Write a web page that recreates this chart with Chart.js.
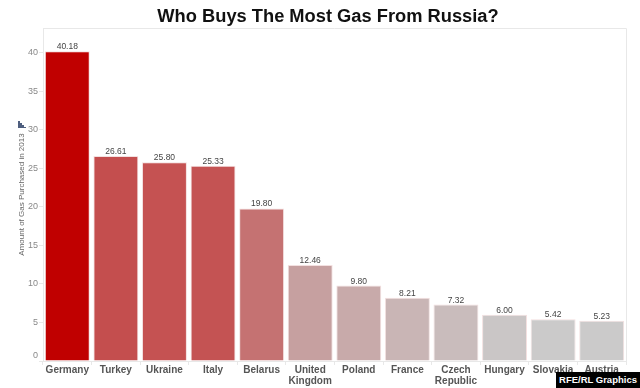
<!DOCTYPE html>
<html><head><meta charset="utf-8">
<script src="https://cdn.jsdelivr.net/npm/chart.js@4"></script>
<style>
html,body{margin:0;padding:0;background:#fff;width:640px;height:388px;overflow:hidden;position:relative}
#wrap{position:absolute;left:0;top:0;width:640px;height:388px}
#title{position:absolute;left:0;top:5px;width:656px;text-align:center;font:bold 18.3px "Liberation Sans",Arial,sans-serif;color:#111}
#badge{position:absolute;right:0;bottom:0;width:84px;height:16px;background:#000;color:#fff;font:bold 9.5px/16px "Liberation Sans",Arial,sans-serif;text-align:center}
#ic{position:absolute;left:18px;top:121px;width:8px;height:7px}
#ic i{position:absolute;bottom:0;width:2px;background:#4f5f7f}
</style></head><body>
<div id="wrap"><canvas id="c" width="640" height="388"></canvas></div>
<div id="title">Who Buys The Most Gas From Russia?</div>
<div id="ic"><i style="left:0;height:7px"></i><i style="left:2px;height:5px"></i><i style="left:4px;height:3px"></i><i style="left:6px;height:1px"></i></div>
<div id="badge">RFE/RL Graphics</div>
<script>
const categories=["Germany","Turkey","Ukraine","Italy","Belarus",["United","Kingdom"],"Poland","France",["Czech","Republic"],"Hungary","Slovakia","Austria"];
const values=[40.18,26.61,25.80,25.33,19.80,12.46,9.80,8.21,7.32,6.00,5.42,5.23];
const barColors=["#c00000","#c44e4e","#c55252","#c45353","#c57272","#c6a0a0","#c8aaaa","#c9b5b5","#c9bcbc","#cac6c6","#cbcaca","#cbcaca"];
const yTicks=[0,5,10,15,20,25,30,35,40];
const yTitle="Amount of Gas Purchased in 2013";
const valueLabels={id:'valueLabels',afterDatasetsDraw(ch){
  const g=ch.ctx,m=ch.getDatasetMeta(0),a=ch.chartArea;
  g.save();
  g.strokeStyle='#e8e8e8';g.lineWidth=1;
  g.beginPath();g.moveTo(a.left,a.top+.5);g.lineTo(a.right+.5,a.top+.5);g.lineTo(a.right+.5,a.bottom);g.stroke();
  g.font='8.5px "Liberation Sans",Arial,sans-serif';g.fillStyle='#444';g.textAlign='center';g.textBaseline='bottom';
  m.data.forEach((b,i)=>g.fillText(values[i].toFixed(2),b.x,b.y));
  g.restore();
}};
new Chart(document.getElementById('c'),{
  type:'bar',
  data:{labels:categories,datasets:[{data:values,backgroundColor:barColors,borderColor:'#f3e0e0',borderWidth:1,categoryPercentage:1,barPercentage:0.925}]},
  plugins:[valueLabels],
  options:{
    responsive:false,animation:false,
    layout:{padding:{left:17,top:28,right:14,bottom:0}},
    plugins:{legend:{display:false},tooltip:{enabled:false},title:{display:false}},
    scales:{
      x:{afterFit(a){a.height=27},grid:{display:true,drawOnChartArea:false,color:'#e8e8e8',tickLength:4,offset:true},border:{color:'#e8e8e8'},
         ticks:{color:'#555',font:{family:'"Liberation Sans",Arial,sans-serif',size:10,weight:'bold',lineHeight:1.1},maxRotation:0,autoSkip:false,padding:0}},
      y:{min:0,max:43.2,afterBuildTicks(a){a.ticks=yTicks.map(v=>({value:v}))},
         afterFit(a){a.width=26},
         grid:{drawOnChartArea:false,color:'#e8e8e8',tickLength:4},border:{color:'#e8e8e8'},
         title:{display:true,text:yTitle,color:'#666',font:{family:'"Liberation Sans",Arial,sans-serif',size:8},padding:{top:0,bottom:0}},
         ticks:{color:'#888',font:{family:'"Liberation Sans",Arial,sans-serif',size:9},padding:1,
           callback:v=>v===0?['0','']:String(v)}}
    }
  }
});
</script></body></html>
